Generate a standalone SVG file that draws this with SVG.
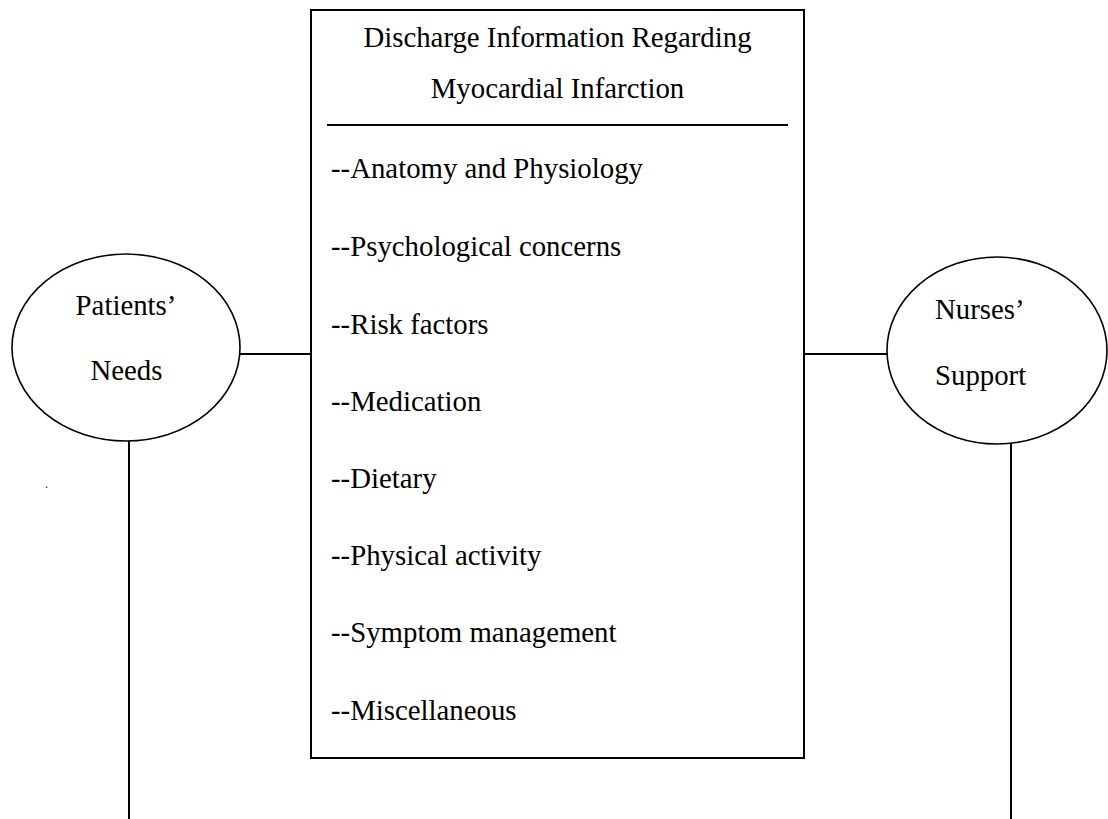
<svg xmlns="http://www.w3.org/2000/svg" width="1108" height="819" viewBox="0 0 1108 819">
<style>
  .t { font-family: "Liberation Serif", "Times New Roman", serif; font-size: 28.8px; fill: #000; }
  .c { text-anchor: middle; }
  .shape { fill: #fff; stroke: #000; stroke-width: 2; }
  .ell { fill: #fff; stroke: #000; stroke-width: 1.6; }
  .ln { stroke: #000; stroke-width: 2; fill: none; }
</style>
<rect width="1108" height="819" fill="#fff"/>
<g id="connectors">
  <line class="ln" x1="240" y1="354" x2="311" y2="354"/>
  <line class="ln" x1="804" y1="354" x2="887" y2="354"/>
  <line class="ln" x1="129" y1="441" x2="129" y2="819"/>
  <line class="ln" x1="1011" y1="441" x2="1011" y2="819"/>
</g>
<g id="discharge-info">
  <rect class="shape" x="311" y="10" width="493" height="748"/>
  <text class="t c" x="557.5" y="47">Discharge Information Regarding</text>
  <text class="t c" x="557.5" y="98">Myocardial Infarction</text>
  <line class="ln" x1="327" y1="125" x2="788" y2="125"/>
  <text class="t" x="331" y="178">--Anatomy and Physiology</text>
  <text class="t" x="331" y="256">--Psychological concerns</text>
  <text class="t" x="331" y="334">--Risk factors</text>
  <text class="t" x="331" y="411">--Medication</text>
  <text class="t" x="331" y="488">--Dietary</text>
  <text class="t" x="331" y="565">--Physical activity</text>
  <text class="t" x="331" y="642">--Symptom management</text>
  <text class="t" x="331" y="720">--Miscellaneous</text>
</g>
<g id="patients-needs">
  <ellipse class="ell" cx="126" cy="347.5" rx="114" ry="93.5"/>
  <text class="t c" x="126" y="315">Patients’</text>
  <text class="t c" x="126.5" y="380">Needs</text>
</g>
<g id="nurses-support">
  <ellipse class="ell" cx="997" cy="350.5" rx="110" ry="93.5"/>
  <text class="t" x="935" y="319">Nurses’</text>
  <text class="t" x="935" y="385">Support</text>
</g>
<text class="t" x="45" y="488" style="font-size:12px">.</text>
</svg>
